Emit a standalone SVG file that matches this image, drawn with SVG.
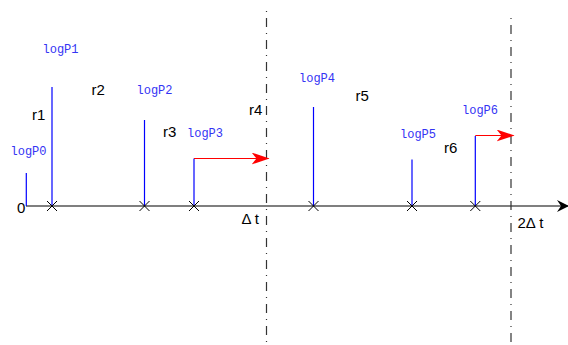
<svg xmlns="http://www.w3.org/2000/svg" width="568" height="345" viewBox="0 0 568 345">
<style>
.lbl{font-family:"Liberation Mono","Courier New",monospace;font-size:12px;fill:#3434f4}
.r{font-family:"Liberation Sans",Arial,sans-serif;font-size:15px;fill:#000}
.tick{stroke:#0000ff;stroke-width:1.2;fill:none}
.x{stroke:#000;stroke-width:1;fill:none}
.dd{stroke:#333;stroke-width:1.2;fill:none;stroke-dasharray:1 6 9 6}
.red{stroke:#ff0000;stroke-width:1;fill:none}
</style>
<defs>
<marker id="ra" viewBox="0 0 18 12" refX="17" refY="6" markerWidth="18" markerHeight="12" markerUnits="userSpaceOnUse" orient="auto">
<path d="M0,0 L18,6 L0,12 L5,6 Z" fill="#ff0000"/>
</marker>
<marker id="ba" viewBox="0 0 12 12" refX="11" refY="6" markerWidth="12" markerHeight="12" markerUnits="userSpaceOnUse" orient="auto">
<path d="M0,0 L12,6 L0,12 L4,6 Z" fill="#000"/>
</marker>
</defs>
<g id="axis">
<line x1="26" y1="206" x2="568" y2="206" stroke="#555" stroke-width="1.5" marker-end="url(#ba)"/>
<text class="r" x="17" y="212.5">0</text>
</g>
<g id="guides">
<line class="dd" x1="266.5" y1="11" x2="266.5" y2="345"/>
<line class="dd" x1="511" y1="18" x2="511" y2="345"/>
<text class="r" x="241.5" y="224">Δ t</text>
<text class="r" x="517.5" y="227.5">2Δ t</text>
</g>
<g id="p0">
<line class="tick" x1="26.3" y1="173" x2="26.3" y2="206"/>
<text class="lbl" x="10.5" y="155">logP0</text>
</g>
<g id="p1">
<line class="tick" x1="52" y1="87" x2="52" y2="206"/>
<path class="x" d="M47,201 L57,211 M57,201 L47,211"/>
<text class="lbl" x="42.5" y="52.5">logP1</text>
<text class="r" x="32" y="119.5">r1</text>
</g>
<g id="p2">
<line class="tick" x1="144.5" y1="120" x2="144.5" y2="206"/>
<path class="x" d="M139.5,201 L149.5,211 M149.5,201 L139.5,211"/>
<text class="lbl" x="136.5" y="94">logP2</text>
<text class="r" x="91.5" y="95">r2</text>
</g>
<g id="p3">
<line class="tick" x1="194" y1="158.5" x2="194" y2="206"/>
<path class="x" d="M189,201 L199,211 M199,201 L189,211"/>
<text class="lbl" x="187" y="137">logP3</text>
<text class="r" x="163" y="136.5">r3</text>
</g>
<g id="r4label">
<text class="r" x="249" y="115">r4</text>
</g>
<g id="p4">
<line class="tick" x1="313.5" y1="107" x2="313.5" y2="206"/>
<path class="x" d="M308.5,201 L318.5,211 M318.5,201 L308.5,211"/>
<text class="lbl" x="299" y="81.5">logP4</text>
<text class="r" x="355.5" y="100.5">r5</text>
</g>
<g id="p5">
<line class="tick" x1="412" y1="159.5" x2="412" y2="206"/>
<path class="x" d="M407,201 L417,211 M417,201 L407,211"/>
<text class="lbl" x="400" y="137.5">logP5</text>
</g>
<g id="p6">
<line class="tick" x1="475.3" y1="136" x2="475.3" y2="206"/>
<path class="x" d="M470.3,201 L480.3,211 M480.3,201 L470.3,211"/>
<text class="lbl" x="462" y="113.5">logP6</text>
<text class="r" x="444" y="152.5">r6</text>
</g>
<g id="connectors">
<line class="red" x1="194" y1="158.5" x2="268.5" y2="158.5" marker-end="url(#ra)"/>
<line class="red" x1="475.3" y1="135.5" x2="513.5" y2="135.5" marker-end="url(#ra)"/>
</g>
</svg>
